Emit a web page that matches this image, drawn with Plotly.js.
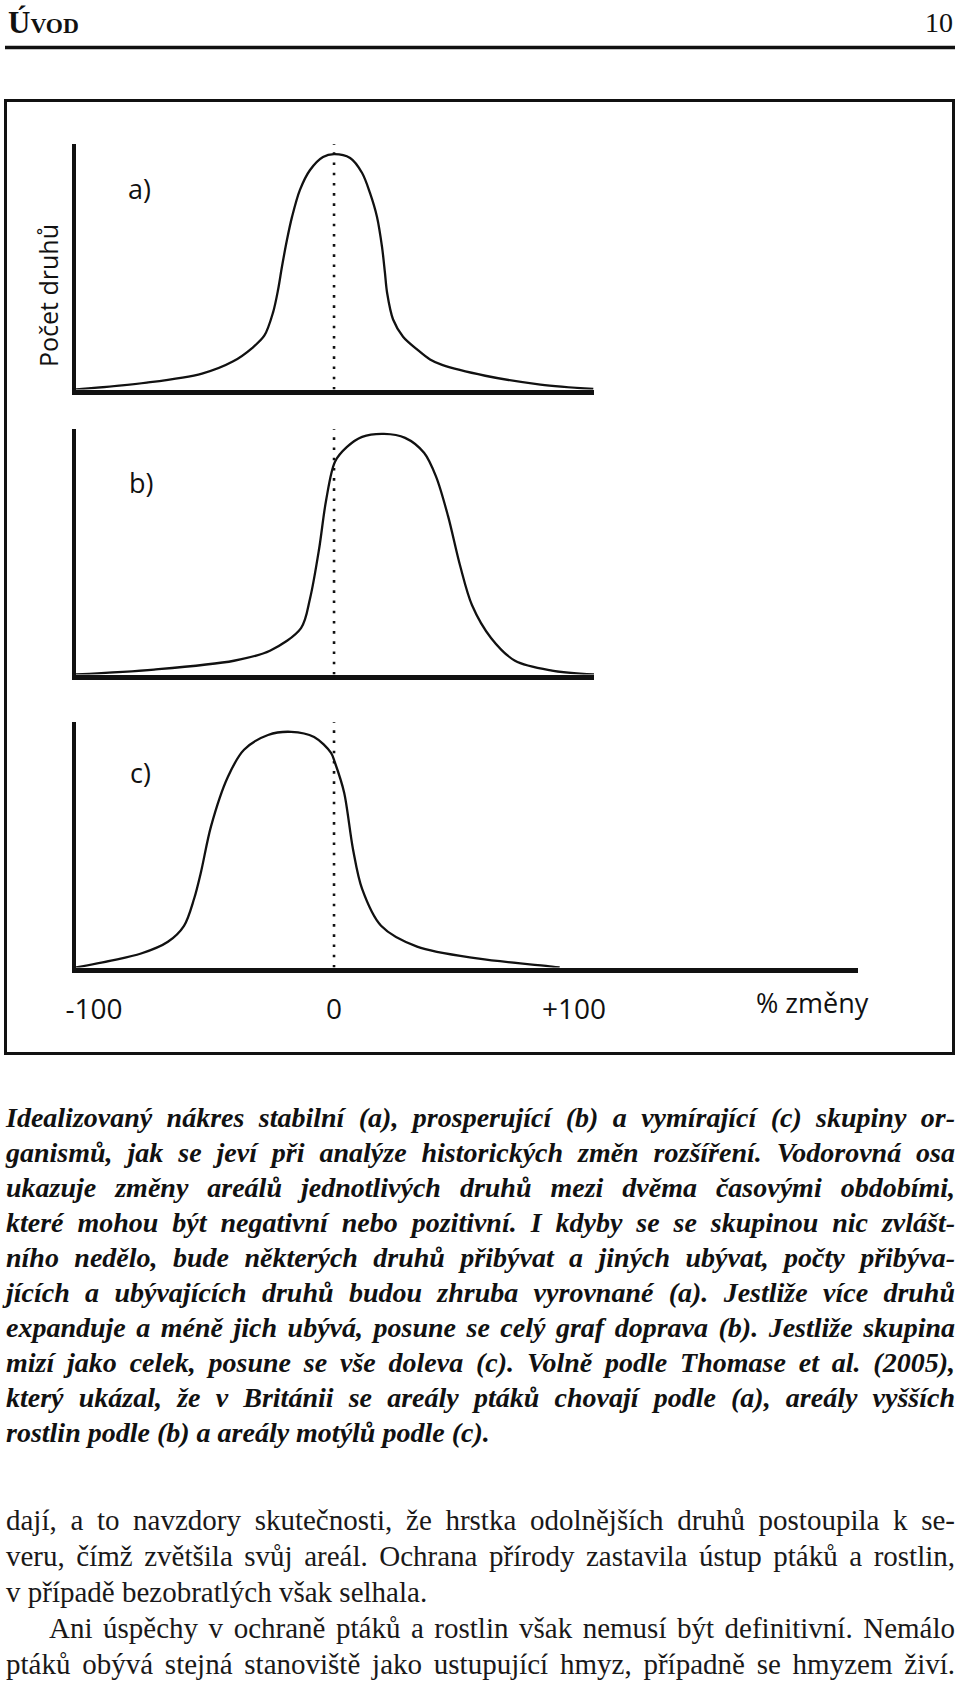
<!DOCTYPE html>
<html lang="cs">
<head>
    <meta charset="UTF-8">
    <title>Úvod – posun areálů</title>
    <script src="https://cdn.plot.ly/plotly-3.0.1.min.js"></script>
    <style>
        body {
            margin: 0;
            background-color: white;
        }
        .page {
            position: relative;
            width: 960px;
            height: 1686px;
            overflow: hidden;
        }
        #chart {
            position: absolute;
            left: 0;
            top: 0;
            width: 960px;
            height: 1070px;
        }
        .text {
            position: absolute;
            left: 6px;
            width: 949px;
            font-family: "Liberation Serif", serif;
        }
        #caption {
            top: 1100px;
            font-size: 28px;
            line-height: 35px;
            font-weight: bold;
            font-style: italic;
            color: #111;
        }
        #body {
            top: 1502px;
            font-size: 29px;
            line-height: 36px;
            color: #1a1818;
        }
        .j {
            text-align: justify;
            text-align-last: justify;
        }
        .l {
            text-align: left;
        }
        .ind {
            text-indent: 43px;
        }
    </style>
</head>
<body>
<div class="page">
    <div id="chart"></div>

    <div id="caption" class="text">
        <div class="j">Idealizovaný nákres stabilní (a), prosperující (b) a vymírající (c) skupiny or-</div>
        <div class="j">ganismů, jak se jeví při analýze historických změn rozšíření. Vodorovná osa</div>
        <div class="j">ukazuje změny areálů jednotlivých druhů mezi dvěma časovými obdobími,</div>
        <div class="j">které mohou být negativní nebo pozitivní. I kdyby se se skupinou nic zvlášt-</div>
        <div class="j">ního nedělo, bude některých druhů přibývat a jiných ubývat, počty přibýva-</div>
        <div class="j">jících a ubývajících druhů budou zhruba vyrovnané (a). Jestliže více druhů</div>
        <div class="j">expanduje a méně jich ubývá, posune se celý graf doprava (b). Jestliže skupina</div>
        <div class="j">mizí jako celek, posune se vše doleva (c). Volně podle Thomase et al. (2005),</div>
        <div class="j">který ukázal, že v Británii se areály ptáků chovají podle (a), areály vyšších</div>
        <div class="l">rostlin podle (b) a areály motýlů podle (c).</div>
    </div>

    <div id="body" class="text">
        <div class="j">dají, a to navzdory skutečnosti, že hrstka odolnějších druhů postoupila k se-</div>
        <div class="j">veru, čímž zvětšila svůj areál. Ochrana přírody zastavila ústup ptáků a rostlin,</div>
        <div class="l">v případě bezobratlých však selhala.</div>
        <div class="j ind">Ani úspěchy v ochraně ptáků a rostlin však nemusí být definitivní. Nemálo</div>
        <div class="j">ptáků obývá stejná stanoviště jako ustupující hmyz, případně se hmyzem živí.</div>
    </div>
</div>

<script>
    // curves: x = % change, y = relative number of species (0-100)
    const stableX = [-107.5, -78, -55, -42, -34, -29, -25.4, -23.3, -21.7, -19.6, -17.5, -14.2, -10, -4.6, 0,
                     6.7, 11.7, 15, 17.9, 20, 21.2, 22.1, 24.6, 28.75, 34.6, 40, 45, 63, 86, 108];
    const stableY = [0, 2.8, 6.5, 11.5, 17, 22, 31.4, 40.7, 50, 61, 70.3, 81.3, 89.4, 94.7, 95.9,
                     94.3, 88.2, 80, 70.3, 58, 47.6, 39.4, 28.5, 21.5, 16.3, 12.2, 10, 5.6, 2, 0.2];

    const growingX = [-107.5, -75, -41.7, -26.7, -13.75, -10, -6.25, -3.3, 0.4, 5.4, 11.7,
                      20.8, 29.6, 37.5, 42.5, 47.5, 52.5, 57.5, 65.4, 75.4, 90.8, 108.3];
    const growingY = [0, 2, 5.6, 9.7, 18.9, 31, 51, 71, 86.7, 92.7, 96.8,
                      98, 96.4, 90.3, 80.6, 64.5, 44.4, 28.2, 14.9, 5.6, 1.6, 0];

    const decliningX = [-107.5, -92.9, -80.4, -69.2, -62.5, -58.3, -55.4, -51.25, -44.2, -37.5,
                        -27.5, -17.9, -8.3, -1.25, 0.4, 4.2, 7.9, 11.7, 19.6, 34.6, 60.4, 90.8, 94];
    const decliningY = [0, 2.8, 5.7, 10.5, 17, 28, 39, 57.5, 77.7, 88.7,
                        94.7, 96, 93.9, 87.4, 83.4, 71.3, 48.2, 32, 17, 8.5, 3.6, 0.4, 0];

    const zeroX = [0, 0];
    const zeroY = [0, 100];

    const tickVals = [-100, 0, 100];
    const tickText = ['-100', '0', '+100'];
    const panelLabels = ['a)', 'b)', 'c)'];

    // page pixels -> paper coordinates
    const W = 960, H = 1070;
    const px = x => x / W;
    const py = y => 1 - y / H;

    const ink = '#111';
    const curve = { color: ink, width: 2.3, shape: 'spline', smoothing: 0.9 };
    const dots = { color: ink, width: 2.6, dash: '2.6px,7.6px' };

    const data = [
        { x: zeroX, y: zeroY, xaxis: 'x', yaxis: 'y', mode: 'lines', line: dots },
        { x: stableX, y: stableY, xaxis: 'x', yaxis: 'y', mode: 'lines', line: curve },
        { x: zeroX, y: zeroY, xaxis: 'x2', yaxis: 'y2', mode: 'lines', line: dots },
        { x: growingX, y: growingY, xaxis: 'x2', yaxis: 'y2', mode: 'lines', line: curve },
        { x: zeroX, y: zeroY, xaxis: 'x3', yaxis: 'y3', mode: 'lines', line: dots },
        { x: decliningX, y: decliningY, xaxis: 'x3', yaxis: 'y3', mode: 'lines', line: curve }
    ];

    const baseAxis = {
        showgrid: false,
        zeroline: false,
        showticklabels: false,
        ticks: '',
        showline: true,
        linecolor: ink,
        fixedrange: true
    };
    const xAxis = (domainRight, rangeRight, anchor) => Object.assign({}, baseAxis, {
        domain: [px(76), px(domainRight)],
        range: [-107.5, rangeRight],
        linewidth: 5.5,
        anchor: anchor
    });
    const yAxis = (bottom, top, anchor) => Object.assign({}, baseAxis, {
        domain: [py(bottom), py(top)],
        range: [0, 100],
        linewidth: 4,
        anchor: anchor
    });

    const x3 = xAxis(858, 218.3, 'y3');
    Object.assign(x3, {
        showticklabels: true,
        tickvals: tickVals,
        ticktext: tickText,
        tickfont: { family: 'Open Sans', size: 28, color: ink },
        ticklabelstandoff: 12
    });

    const sans = (size) => ({ family: 'Open Sans', size: size, color: ink });
    const note = (text, x, y, font, extra) => Object.assign({
        text: text, x: px(x), y: py(y), xref: 'paper', yref: 'paper',
        showarrow: false, xanchor: 'center', yanchor: 'middle', font: font
    }, extra || {});

    const layout = {
        width: W,
        height: H,
        margin: { l: 0, r: 0, t: 0, b: 0 },
        paper_bgcolor: 'white',
        plot_bgcolor: 'rgba(0,0,0,0)',
        showlegend: false,
        xaxis: xAxis(594, 108.3, 'y'),
        yaxis: yAxis(389.5, 144, 'x'),
        xaxis2: xAxis(594, 108.3, 'y2'),
        yaxis2: yAxis(674.5, 429, 'x2'),
        xaxis3: x3,
        yaxis3: yAxis(967.5, 722, 'x3'),
        shapes: [
            // header rule
            { type: 'line', xref: 'paper', yref: 'paper', x0: px(5), x1: px(955), y0: py(47.5), y1: py(47.5),
              line: { color: ink, width: 3.5 } },
            // figure frame
            { type: 'rect', xref: 'paper', yref: 'paper', x0: px(5.5), x1: px(953.5), y0: py(1053.5), y1: py(100.5),
              line: { color: ink, width: 3 } }
        ],
        annotations: [
            note('Úvod', 6, 22, { family: 'Liberation Serif', size: 31, color: ink, weight: 'bold', variant: 'small-caps' },
                 { xanchor: 'left' }),
            note('10', 955, 22, { family: 'Liberation Serif', size: 28, color: ink }, { xanchor: 'right' }),
            note('Počet druhů', 48, 296, sans(25), { textangle: -90 }),
            note(panelLabels[0], 139, 188, sans(27)),
            note(panelLabels[1], 141, 483, sans(27)),
            note(panelLabels[2], 140, 772, sans(27)),
            note('% změny', 812, 1002, sans(27))
        ]
    };

    Plotly.newPlot('chart', data, layout, { staticPlot: true, displayModeBar: false });
</script>
</body>
</html>
